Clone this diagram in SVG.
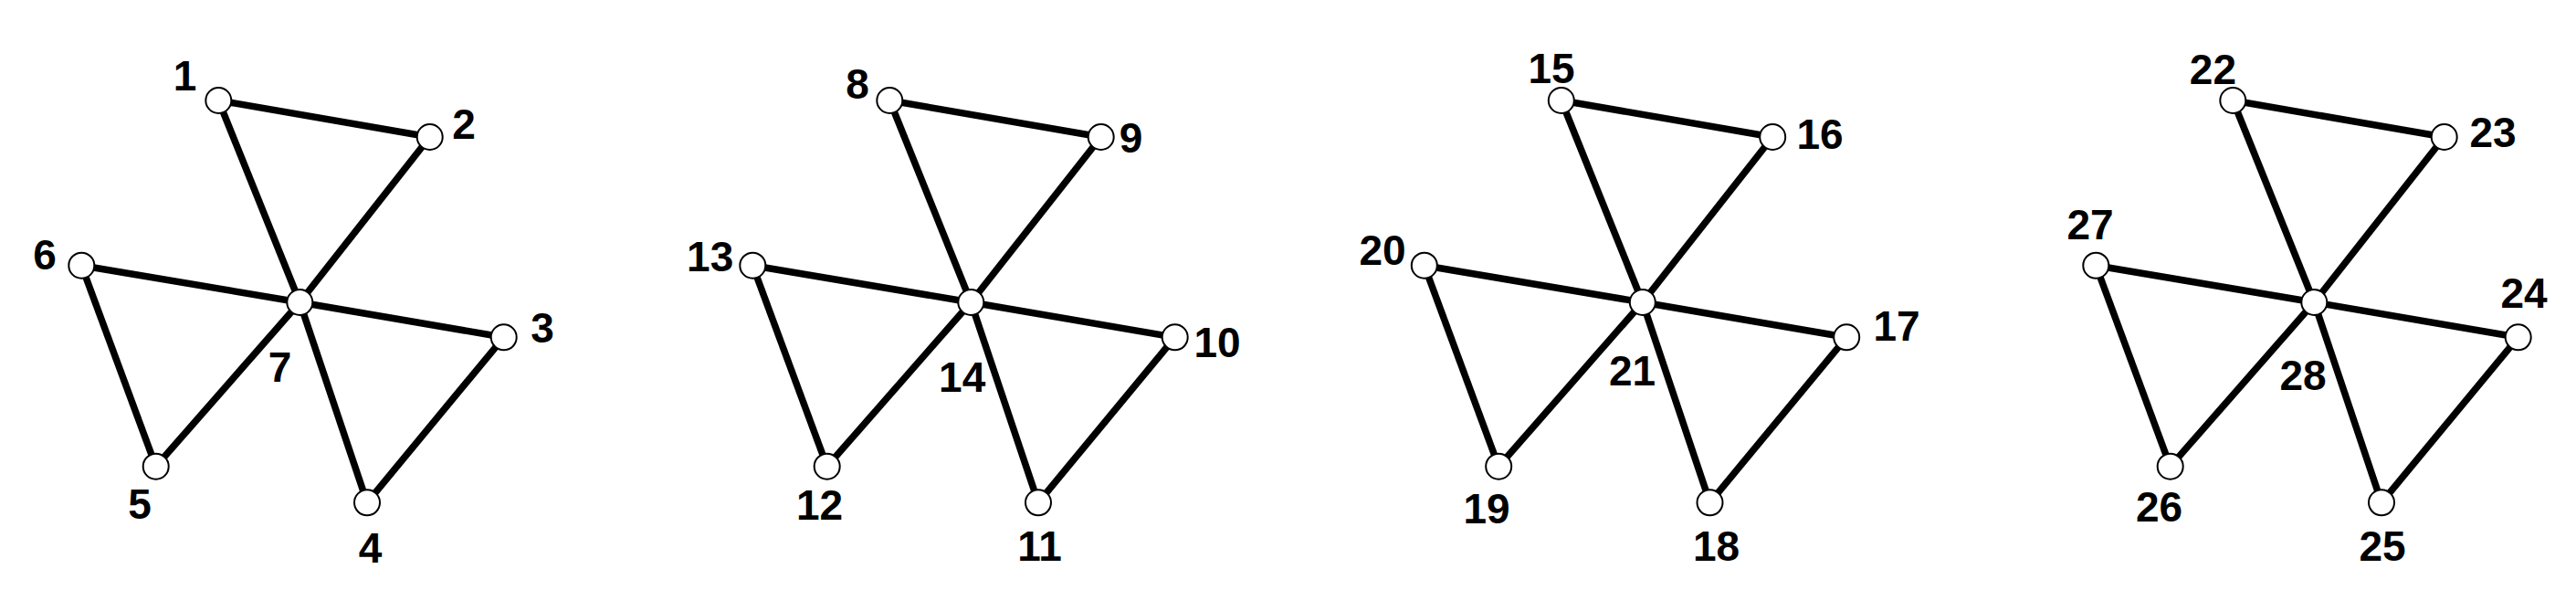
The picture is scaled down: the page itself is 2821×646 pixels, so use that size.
<svg xmlns="http://www.w3.org/2000/svg" width="2821" height="646" viewBox="0 0 2821 646">
<style>
.e{stroke:#000;stroke-width:7.5;stroke-linecap:butt;fill:none}
.n circle{fill:#fff;stroke:#000;stroke-width:2}
.n text{font-family:"Liberation Sans",Arial,sans-serif;font-weight:bold;font-size:46px;fill:#000;text-anchor:middle}
</style>
<rect width="2821" height="646" fill="#fff"/>
<g id="connectors">
<!-- figure 1 -->
<line class="e" x1="239.3" y1="110" x2="470.7" y2="150"/>
<line class="e" x1="239.3" y1="110" x2="328.3" y2="331"/>
<line class="e" x1="470.7" y1="150" x2="328.3" y2="331"/>
<line class="e" x1="89.3" y1="290.7" x2="328.3" y2="331"/>
<line class="e" x1="328.3" y1="331" x2="551.7" y2="369.3"/>
<line class="e" x1="89.3" y1="290.7" x2="170.7" y2="510.7"/>
<line class="e" x1="170.7" y1="510.7" x2="328.3" y2="331"/>
<line class="e" x1="328.3" y1="331" x2="402" y2="550.3"/>
<line class="e" x1="551.7" y1="369.3" x2="402" y2="550.3"/>
<!-- figure 2 -->
<line class="e" x1="974.3" y1="110" x2="1205.7" y2="150"/>
<line class="e" x1="974.3" y1="110" x2="1063.3" y2="331"/>
<line class="e" x1="1205.7" y1="150" x2="1063.3" y2="331"/>
<line class="e" x1="824.3" y1="290.7" x2="1063.3" y2="331"/>
<line class="e" x1="1063.3" y1="331" x2="1286.7" y2="369.3"/>
<line class="e" x1="824.3" y1="290.7" x2="905.7" y2="510.7"/>
<line class="e" x1="905.7" y1="510.7" x2="1063.3" y2="331"/>
<line class="e" x1="1063.3" y1="331" x2="1137" y2="550.3"/>
<line class="e" x1="1286.7" y1="369.3" x2="1137" y2="550.3"/>
<!-- figure 3 -->
<line class="e" x1="1709.8" y1="110" x2="1941.2" y2="150"/>
<line class="e" x1="1709.8" y1="110" x2="1798.8" y2="331"/>
<line class="e" x1="1941.2" y1="150" x2="1798.8" y2="331"/>
<line class="e" x1="1559.8" y1="290.7" x2="1798.8" y2="331"/>
<line class="e" x1="1798.8" y1="331" x2="2022.2" y2="369.3"/>
<line class="e" x1="1559.8" y1="290.7" x2="1641.2" y2="510.7"/>
<line class="e" x1="1641.2" y1="510.7" x2="1798.8" y2="331"/>
<line class="e" x1="1798.8" y1="331" x2="1872.5" y2="550.3"/>
<line class="e" x1="2022.2" y1="369.3" x2="1872.5" y2="550.3"/>
<!-- figure 4 -->
<line class="e" x1="2445.3" y1="110" x2="2676.7" y2="150"/>
<line class="e" x1="2445.3" y1="110" x2="2534.3" y2="331"/>
<line class="e" x1="2676.7" y1="150" x2="2534.3" y2="331"/>
<line class="e" x1="2295.3" y1="290.7" x2="2534.3" y2="331"/>
<line class="e" x1="2534.3" y1="331" x2="2757.7" y2="369.3"/>
<line class="e" x1="2295.3" y1="290.7" x2="2376.7" y2="510.7"/>
<line class="e" x1="2376.7" y1="510.7" x2="2534.3" y2="331"/>
<line class="e" x1="2534.3" y1="331" x2="2608" y2="550.3"/>
<line class="e" x1="2757.7" y1="369.3" x2="2608" y2="550.3"/>
</g>
<g id="n1" class="n"><circle cx="239.3" cy="110" r="14"/><text x="202.5" y="99">1</text></g>
<g id="n2" class="n"><circle cx="470.7" cy="150" r="14"/><text x="508" y="152">2</text></g>
<g id="n3" class="n"><circle cx="551.7" cy="369.3" r="14"/><text x="594" y="375">3</text></g>
<g id="n4" class="n"><circle cx="402" cy="550.3" r="14"/><text x="405.5" y="616">4</text></g>
<g id="n5" class="n"><circle cx="170.7" cy="510.7" r="14"/><text x="153" y="568">5</text></g>
<g id="n6" class="n"><circle cx="89.3" cy="290.7" r="14"/><text x="49" y="295">6</text></g>
<g id="n7" class="n"><circle cx="328.3" cy="331" r="14"/><text x="306.5" y="418">7</text></g>

<g id="n8" class="n"><circle cx="974.3" cy="110" r="14"/><text x="939" y="108">8</text></g>
<g id="n9" class="n"><circle cx="1205.7" cy="150" r="14"/><text x="1238.6" y="167">9</text></g>
<g id="n10" class="n"><circle cx="1286.7" cy="369.3" r="14"/><text x="1333" y="391">10</text></g>
<g id="n11" class="n"><circle cx="1137" cy="550.3" r="14"/><text x="1138.5" y="614">11</text></g>
<g id="n12" class="n"><circle cx="905.7" cy="510.7" r="14"/><text x="897.5" y="569">12</text></g>
<g id="n13" class="n"><circle cx="824.3" cy="290.7" r="14"/><text x="777.7" y="297">13</text></g>
<g id="n14" class="n"><circle cx="1063.3" cy="331" r="14"/><text x="1053.7" y="429">14</text></g>

<g id="n15" class="n"><circle cx="1709.8" cy="110" r="14"/><text x="1699" y="91">15</text></g>
<g id="n16" class="n"><circle cx="1941.2" cy="150" r="14"/><text x="1993" y="163">16</text></g>
<g id="n17" class="n"><circle cx="2022.2" cy="369.3" r="14"/><text x="2077" y="373">17</text></g>
<g id="n18" class="n"><circle cx="1872.5" cy="550.3" r="14"/><text x="1879.5" y="614">18</text></g>
<g id="n19" class="n"><circle cx="1641.2" cy="510.7" r="14"/><text x="1628" y="573">19</text></g>
<g id="n20" class="n"><circle cx="1559.8" cy="290.7" r="14"/><text x="1514" y="290">20</text></g>
<g id="n21" class="n"><circle cx="1798.8" cy="331" r="14"/><text x="1787.5" y="422">21</text></g>

<g id="n22" class="n"><circle cx="2445.3" cy="110" r="14"/><text x="2423.4" y="92">22</text></g>
<g id="n23" class="n"><circle cx="2676.7" cy="150" r="14"/><text x="2730" y="161">23</text></g>
<g id="n24" class="n"><circle cx="2757.7" cy="369.3" r="14"/><text x="2764" y="337">24</text></g>
<g id="n25" class="n"><circle cx="2608" cy="550.3" r="14"/><text x="2609" y="614">25</text></g>
<g id="n26" class="n"><circle cx="2376.7" cy="510.7" r="14"/><text x="2364.6" y="571">26</text></g>
<g id="n27" class="n"><circle cx="2295.3" cy="290.7" r="14"/><text x="2289" y="262">27</text></g>
<g id="n28" class="n"><circle cx="2534.3" cy="331" r="14"/><text x="2522" y="427">28</text></g>
</svg>
